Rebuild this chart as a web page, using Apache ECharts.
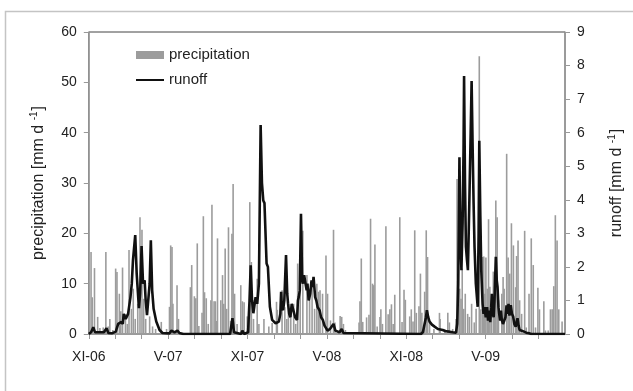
<!DOCTYPE html>
<html>
<head>
<meta charset="utf-8">
<script src="https://cdn.jsdelivr.net/npm/echarts@6/dist/echarts.min.js"></script>
<style>html,body{margin:0;padding:0;background:#fff}#c{width:633px;height:391px}</style>
</head>
<body>
<div id="c"></div>
<script>
// x positions in months after 1 Nov 2006
const xTickLabels = ['XI-06', 'V-07', 'XI-07', 'V-08', 'XI-08', 'V-09'];

const precipMonth = [0.17,0.26,0.43,0.67,0.84,1.09,1.29,1.47,1.59,1.82,2.03,2.13,2.31,2.42,2.55,2.77,2.91,3.04,3.22,3.36,3.51,3.70,3.87,4.02,4.15,4.30,4.60,4.82,5.05,5.48,5.88,
6.10,6.19,6.29,6.36,6.67,6.78,7.68,7.78,7.98,8.09,8.20,8.32,8.56,8.66,8.75,8.88,9.03,9.23,9.31,9.47,9.57,9.63,9.73,9.98,10.11,10.20,10.31,10.42,10.56,10.72,10.82,10.91,11.02,11.21,11.49,11.61,11.74,11.98,
12.17,12.29,12.45,12.73,12.86,13.24,13.61,13.86,14.19,14.25,14.61,14.82,14.97,15.09,15.27,15.49,15.64,15.79,15.98,16.18,16.49,16.69,16.88,17.07,17.24,17.37,17.48,17.67,17.93,
18.05,18.27,18.50,18.61,19.00,19.12,19.25,19.40,20.43,20.50,20.60,20.71,21.00,21.18,21.30,21.45,21.54,21.63,21.80,22.01,22.08,22.20,22.46,22.63,22.76,22.88,23.01,23.13,23.51,23.68,23.83,23.93,
24.26,24.38,24.51,24.64,24.76,24.96,25.07,25.18,25.39,25.51,25.61,25.76,26.09,26.51,26.56,26.91,27.14,27.26,27.51,27.76,27.84,27.91,28.04,28.14,28.23,28.34,28.46,28.64,28.77,28.94,29.14,29.28,29.52,29.64,29.77,29.86,29.94,
30.02,30.13,30.22,30.32,30.43,30.58,30.65,30.77,30.87,30.97,31.22,31.32,31.40,31.59,31.70,31.82,31.95,32.10,32.27,32.34,32.45,32.57,32.72,32.95,33.07,33.28,33.45,33.60,33.77,33.95,34.07,34.40,34.52,34.73,34.90,35.03,35.15,35.27,35.40,35.53,35.78];
const precipValue = [16.3,7.3,13.1,3.4,1.2,1.3,16.3,1.5,3,0.8,13,12.3,8,4.5,13.2,4,2,16.7,5,9,3,6,23.2,20.7,7,3,3.5,1.5,1,2.4,1,
5.4,17.6,17.3,6,9.7,3,9.3,13.7,7.5,7.1,18,1.6,4.2,23.4,8.3,7.1,2,6.7,25.7,6.5,6.5,2.6,19,6.7,11.7,6,17,5,21.2,2.6,19.9,29.8,8,2,9.7,6.5,6.3,3.5,
26.2,14.3,3,11,2,3,1.5,2.2,6.4,4.8,8.7,5.3,3,6,5,6,2,14,10,20.5,11.7,9,10,5,10,8.4,8.7,8,15.6,
8,2.7,20.7,2.3,3.6,3.4,2,0.8,2.3,6.5,15,2.4,3.3,3.8,22.9,10,9.7,17.8,1.5,3.4,4.9,2,21.4,3.9,4.9,5.9,2,7.8,23.2,2.4,8.8,6.8,
3.5,4.9,2.5,20.6,4.2,5.5,12,4.2,8.4,20.6,15.3,2.3,1,4.2,3,1,4.2,2.3,1,3,30.8,14,9,7,13,5,8,4,3.4,6,2.3,5,55.2,4.9,15.3,15.4,8,
15.2,9,22.8,9.4,6.7,12.4,12,26.5,23.2,6.7,8,11.3,9,35.8,15.2,12,22,17.6,9.3,15.5,18.6,6.7,4,20.5,1.3,8,19,13.7,1.3,9.2,4.9,6.5,0.7,0.7,4.9,4.9,9.5,23.6,18.6,4.9,2.5];

const runoffMonth = [0,0.17,0.34,0.47,0.84,1.14,1.34,1.48,1.74,2.04,2.22,2.34,2.47,2.57,2.64,2.79,2.97,3.15,3.25,3.34,3.51,3.62,3.79,3.88,3.99,4.10,4.22,4.30,4.40,4.52,4.60,4.69,4.79,4.90,5.10,5.35,5.57,6.10,6.25,6.48,6.70,6.85,7.00,7.15,
10.68,10.86,10.98,11.51,11.61,11.74,12.04,12.15,12.24,12.34,12.44,12.61,12.73,12.86,12.99,13.09,13.19,13.28,13.37,13.44,13.54,13.69,13.86,14.12,14.37,14.48,14.54,14.59,14.69,14.78,14.91,15.00,15.06,15.15,15.24,15.34,15.49,15.60,15.74,15.81,15.87,15.95,
16.04,16.13,16.19,16.28,16.37,16.47,16.53,16.62,16.74,16.84,16.92,16.99,17.11,17.20,17.30,17.45,17.56,17.69,17.82,17.95,18.05,18.12,18.23,18.35,18.50,18.64,18.75,18.95,19.12,19.25,19.38,
25.11,25.26,25.41,25.49,25.56,25.66,25.76,25.94,26.14,26.39,26.76,26.99,27.26,27.51,27.76,27.85,27.93,28.02,28.09,28.17,28.26,28.33,28.37,28.44,28.51,28.59,28.66,28.73,28.77,28.87,28.94,29.02,29.09,29.16,29.26,29.40,29.47,29.52,29.60,29.67,29.77,29.84,29.91,
30.01,30.11,30.18,30.27,30.35,30.42,30.47,30.53,30.61,30.67,30.77,30.84,30.90,30.97,31.02,31.10,31.16,31.22,31.31,31.40,31.50,31.58,31.65,31.73,31.80,31.90,31.99,32.08,32.17,32.27,32.34,32.41,32.49,32.57,32.73,32.90,33.07,33.28,33.45,36];
const runoffValue = [0,0.05,0.2,0.05,0.05,0.05,0.17,0.03,0.02,0.07,0.3,0.25,0.36,0.3,0.6,0.45,0.6,1.1,1.5,2.2,2.95,1.8,0.77,1.2,2.62,1.5,1.6,1.0,0.56,0.55,1.5,2.79,1.3,0.75,0.37,0.12,0.03,0.02,0.1,0.05,0.1,0.03,0.08,0,
0,0.47,0.05,0,0.1,0,0.05,1.0,2.05,1.0,0.62,1.1,0.9,1.5,6.23,4.5,3.98,3.9,3.93,2.1,2.0,0.81,0.42,0.32,0.37,0.6,1.26,0.8,0.71,1.0,2.35,1.2,0.92,0.6,0.5,0.9,0.92,0.5,0.42,1.0,1.1,1.3,
3.58,1.6,1.5,1.75,1.8,1.3,1.5,1.0,1.2,1.6,1.4,1.7,1.1,1.0,0.8,0.7,0.5,0.42,0.25,0.22,0.1,0.07,0.15,0.2,0.3,0.1,0.07,0.05,0.15,0.03,0,
0,0.06,0.1,0.5,0.71,0.5,0.37,0.28,0.22,0.15,0.12,0.08,0.07,0.05,0.04,0.3,1.5,5.27,3.0,1.9,3.34,5.5,7.69,4.5,2.6,2.2,1.9,3.2,3.98,6.0,7.54,5.5,3.9,2.6,1.5,0.81,3.0,5.76,3.5,1.9,0.9,0.6,0.8,
0.5,0.8,0.4,0.7,0.35,0.8,1.2,0.6,0.5,1.0,2.3,1.6,1.4,0.8,0.62,0.4,0.7,0.42,0.3,0.32,0.5,0.85,0.6,0.9,0.55,0.86,0.6,0.52,0.3,0.22,0.35,0.47,0.25,0.12,0.1,0.07,0.04,0.02,0,0];

const precipData = precipMonth.map((m, i) => [m, precipValue[i]]);
const runoffData = runoffMonth.map((m, i) => [m, runoffValue[i]]);

const FONT = 'Liberation Sans, Arial, sans-serif';
const TXT = '#222';

const chart = echarts.init(document.getElementById('c'), null, {renderer: 'canvas'});
chart.setOption({
  animation: false,
  backgroundColor: '#fff',
  textStyle: {fontFamily: FONT},
  graphic: [{
    type: 'rect', silent: true, z: -10,
    shape: {x: 5.5, y: 11.5, width: 700, height: 500},
    style: {fill: 'none', stroke: '#c4c4c4', lineWidth: 1.5}
  }],
  grid: {left: 88.8, right: 66, top: 32, bottom: 57, show: true, borderColor: '#444', borderWidth: 1, backgroundColor: 'transparent'},
  legend: {
    orient: 'vertical', left: 130, top: 42, itemWidth: 28, itemHeight: 8, itemGap: 9,
    textStyle: {fontSize: 15, color: TXT, fontFamily: FONT, lineHeight: 16},
    data: [{name: 'precipitation', icon: 'rect'}, {name: 'runoff', itemStyle: {opacity: 0}}]
  },
  xAxis: {
    type: 'value', min: 0, max: 36, interval: 2,
    axisLine: {show: true, lineStyle: {color: '#999', width: 1.5}},
    axisTick: {show: true, inside: false, length: 5, lineStyle: {color: '#999'}},
    axisLabel: {
      fontSize: 14, color: TXT, fontFamily: FONT, margin: 16, showMaxLabel: false,
      formatter: v => (v % 6 === 0 && xTickLabels[v / 6]) ? xTickLabels[v / 6] : ''
    },
    splitLine: {show: false}
  },
  yAxis: [{
    type: 'value', min: 0, max: 60, interval: 10, position: 'left',
    name: '{a|precipitation [mm d }{s|-1}{a|]}', nameLocation: 'middle', nameGap: 40, nameRotate: 90,
    nameTextStyle: {rich: {a: {fontSize: 16, color: TXT, fontFamily: FONT, lineHeight: 20}, s: {fontSize: 10, color: TXT, fontFamily: FONT, lineHeight: 20, verticalAlign: 'top', padding: [0, 1, 0, 0]}}},
    axisLine: {show: true, lineStyle: {color: '#999', width: 1.5}},
    axisTick: {show: true, length: 5, lineStyle: {color: '#999'}},
    axisLabel: {fontSize: 14, color: TXT, fontFamily: FONT, margin: 12},
    splitLine: {show: false}
  }, {
    type: 'value', min: 0, max: 9, interval: 1, position: 'right',
    name: '{a|runoff [mm d }{s|-1}{a|]}', nameLocation: 'middle', nameGap: 42, nameRotate: 90,
    nameTextStyle: {rich: {a: {fontSize: 16, color: TXT, fontFamily: FONT, lineHeight: 20}, s: {fontSize: 10, color: TXT, fontFamily: FONT, lineHeight: 20, verticalAlign: 'top', padding: [0, 1, 0, 0]}}},
    axisLine: {show: true, lineStyle: {color: '#999', width: 1.5}},
    axisTick: {show: true, length: 5, lineStyle: {color: '#999'}},
    axisLabel: {fontSize: 14, color: TXT, fontFamily: FONT, margin: 12},
    splitLine: {show: false}
  }],
  series: [{
    name: 'precipitation', type: 'bar', yAxisIndex: 0, barWidth: 1.6,
    itemStyle: {color: '#9c9c9c'}, data: precipData, z: 2
  }, {
    name: 'runoff', type: 'line', yAxisIndex: 1, symbol: 'none', showSymbol: false,
    lineStyle: {color: '#111', width: 2.6}, itemStyle: {color: '#111'}, data: runoffData, z: 3
  }]
});
</script>
</body>
</html>
